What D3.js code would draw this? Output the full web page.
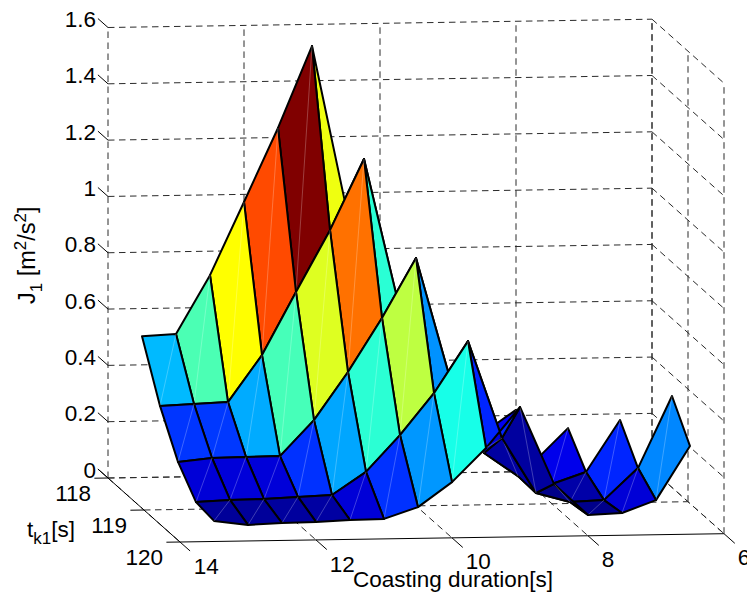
<!DOCTYPE html>
<html><head><meta charset="utf-8">
<script src="https://cdnjs.cloudflare.com/ajax/libs/d3/7.8.5/d3.min.js"></script>
<style>html,body{margin:0;padding:0;background:#fff}svg{display:block}
text{font-family:"Liberation Sans",Arial,sans-serif;font-size:22.5px;fill:#000}</style>
</head><body><div id="c"></div>
<script>
const durations=[13.5,13,12.5,12,11.5,11,10.5,10,9.5,9,8.5,8,7.5,7,6.5];
const starts=[118,118.5,119,119.5,120];
const N=null;
const j118  =[.502,.508,.715,.973,1.234,1.523,.95,.5,.3,.2,.136,.22,N,N,N];
const j1185 =[.311,.316,.321,.486,.708,.926,1.177,.667,.4,.24,.13,.092,.21,N,N];
const j119  =[.169,.181,.183,.184,.31,.479,.669,.88,.45,.184,.1,.07,.111,.294,N];
const j1195 =[.083,.089,.09,.096,.101,.181,.31,.457,.64,.294,.097,.063,.068,.18,.434];
const j120  =[.073,.057,.062,.064,.069,.071,.111,.198,.317,.461,.186,.074,.079,.123,.313];
const rows=[j118,j1185,j119,j1195,j120];
const zTicks=[0,.2,.4,.6,.8,1,1.2,1.4,1.6];
const dTicks=[14,12,10,8,6];
const tTicks=[118,119,120];

const W=747,H=598;
const sxD=d3.scaleLinear([14,6],[108,652]), sxT=d3.scaleLinear([118,120],[0,72]);
const syD=d3.scaleLinear([14,6],[478,469.7]), syT=d3.scaleLinear([118,120],[0,64]);
const syZ=d3.scaleLinear([0,1.6],[0,-450.5]);
const P=(d,t,z=0)=>[sxD(d)+sxT(t),syD(d)+syT(t)+syZ(z)];
const jet=d3.scaleLinear([0,.125,.375,.625,.875,1],["#000084","#0000ff","#00ffff","#ffff00","#ff0000","#800000"]).clamp(true);
const flat=rows.flat().filter(v=>v!==null);
const col=d3.scaleLinear(d3.extent(flat),[0,1]);
const line=d3.line();
const svg=d3.select("#c").append("svg").attr("width",W).attr("height",H);
const g=svg.append("g");
const dash=(a,b)=>g.append("path").attr("d",line([a,b])).attr("fill","none").attr("stroke","#2a2a2a").attr("stroke-width",1).attr("stroke-dasharray","6.5 4.5");
const solid=(a,b)=>g.append("path").attr("d",line([a,b])).attr("fill","none").attr("stroke","#000").attr("stroke-width",1);

const zMax=1.6;
zTicks.forEach(z=>{dash(P(14,118,z),P(6,118,z));dash(P(6,118,z),P(6,120,z));});
dTicks.forEach(d=>{dash(P(d,118,0),P(d,118,zMax));dash(P(d,118,0),P(d,120,0));});
tTicks.forEach(t=>{dash(P(6,t,0),P(6,t,zMax));if(t<120)dash(P(14,t,0),P(6,t,0));});
// solid axes and ticks
solid(P(14,120),P(6,120));
solid(P(14,117.72),P(14,120.28));
dTicks.slice(1).forEach(d=>solid(P(d,120),P(d,120.3)));
tTicks.forEach(t=>solid(P(14.2,t),P(14,t)));
zTicks.forEach(z=>solid(P(14,118,z),P(14,117.72,z)));

// surface: far rows first, and in a row the smaller duration first
for(let r=0;r<starts.length-1;r++){
  for(let c=durations.length-2;c>=0;c--){
    const q=[[c+1,r],[c,r],[c,r+1],[c+1,r+1]].map(([i,k])=>({d:durations[i],t:starts[k],z:rows[k][i]}));
    if(q.some(o=>o.z===null))continue;
    const pts=q.map(o=>P(o.d,o.t,o.z));
    g.append("path").attr("d",line(pts)+"Z").attr("fill",jet(col(q[0].z))).attr("stroke","#000").attr("stroke-width",2).attr("stroke-linejoin","round");
    g.append("path").attr("d",line([pts[0],pts[2]])).attr("stroke","#fff").attr("stroke-opacity",.35).attr("stroke-width",.7);
  }
}
zTicks.forEach(z=>{const p=P(14,118,z);g.append("text").attr("x",p[0]-12).attr("y",p[1]-0.5).attr("text-anchor","end").text(d3.format("~g")(z));});
tTicks.forEach(t=>{const p=P(14,t);g.append("text").attr("x",p[0]-17).attr("y",p[1]+22.5).attr("text-anchor","end").text(t);});
dTicks.forEach(d=>{const p=P(d,120.3);g.append("text").attr("x",p[0]+3).attr("y",p[1]+22).text(d);});
// titles
g.append("text").attr("x",353).attr("y",587).text("Coasting duration[s]");
const tk=g.append("text").attr("x",27).attr("y",537);
tk.append("tspan").text("t");tk.append("tspan").attr("dy",7).style("font-size","17px").text("k1");tk.append("tspan").attr("dy",-7).text("[s]");
const jt=g.append("text").attr("transform","translate(35,304) rotate(-90)").style("font-size","23.5px");
jt.append("tspan").text("J");jt.append("tspan").attr("dy",7).style("font-size","17px").text("1");
jt.append("tspan").attr("dy",-7).text(" [m");jt.append("tspan").attr("dy",-9).style("font-size","17px").text("2");
jt.append("tspan").attr("dy",9).text("/s");jt.append("tspan").attr("dy",-9).style("font-size","17px").text("2");
jt.append("tspan").attr("dy",9).text("]");
</script></body></html>
